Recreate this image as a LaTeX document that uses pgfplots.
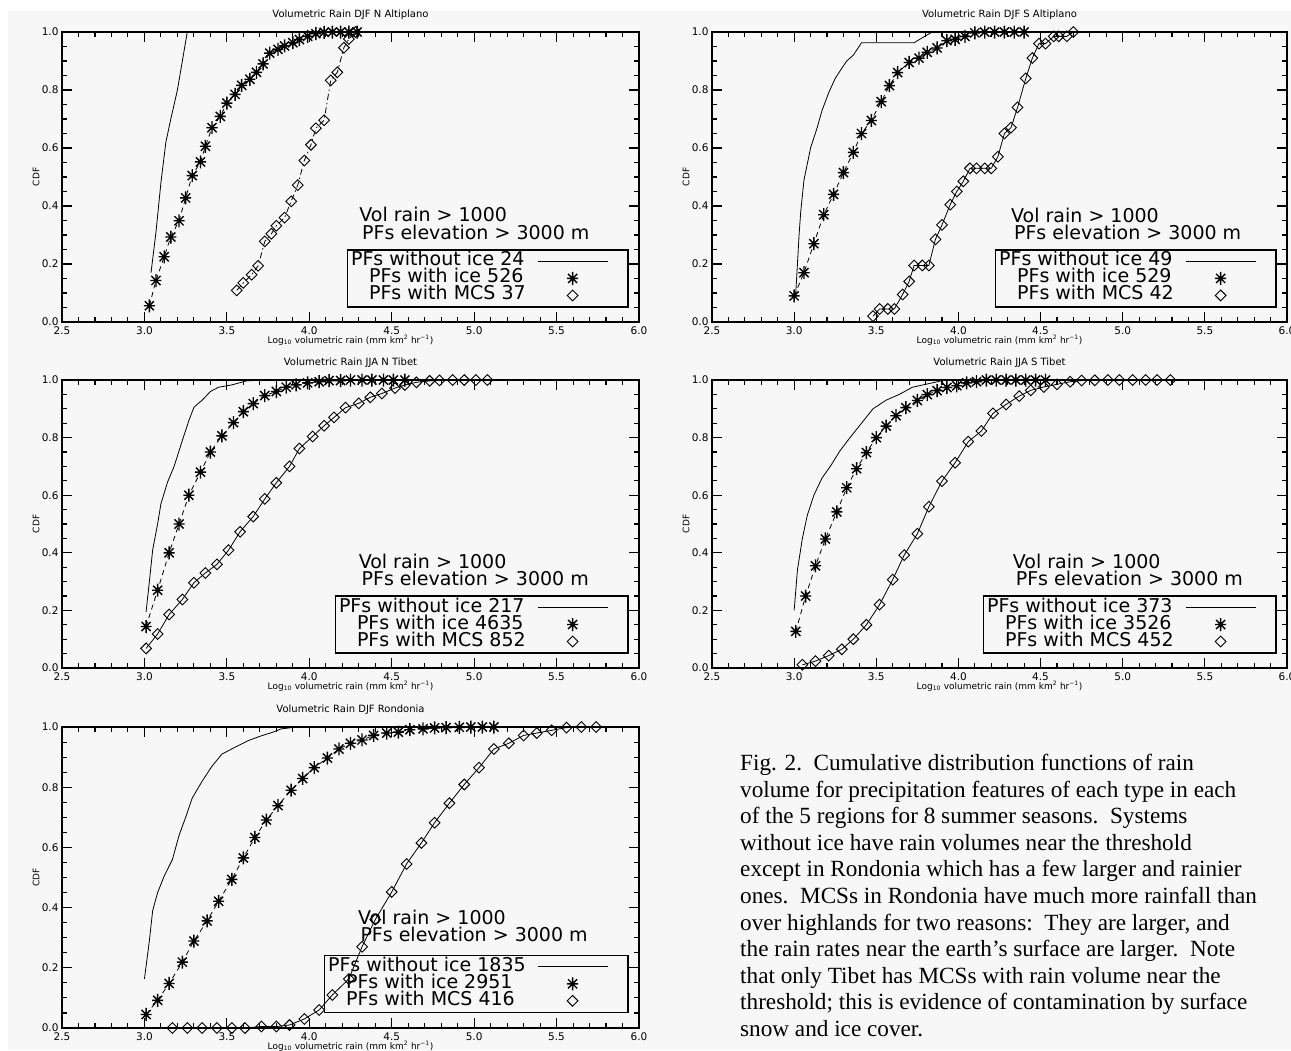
\documentclass[border=0pt]{standalone}
\usepackage{fontspec}
\setmainfont{Liberation Serif}
\newfontfamily\idl{DejaVu Sans}
\usepackage{pgfplots}
\pgfplotsset{compat=1.18}

\definecolor{bg}{HTML}{F7F7F7}

% IDL style asterisk (psym=2)
\pgfdeclareplotmark{idlstar}{%
  \pgfpathmoveto{\pgfqpoint{0pt}{\pgfplotmarksize}}%
  \pgfpathlineto{\pgfqpoint{0pt}{-\pgfplotmarksize}}%
  \pgfpathmoveto{\pgfqpoint{-0.85\pgfplotmarksize}{0pt}}%
  \pgfpathlineto{\pgfqpoint{0.85\pgfplotmarksize}{0pt}}%
  \pgfpathmoveto{\pgfqpoint{-0.7\pgfplotmarksize}{-0.7\pgfplotmarksize}}%
  \pgfpathlineto{\pgfqpoint{0.7\pgfplotmarksize}{0.7\pgfplotmarksize}}%
  \pgfpathmoveto{\pgfqpoint{-0.7\pgfplotmarksize}{0.7\pgfplotmarksize}}%
  \pgfpathlineto{\pgfqpoint{0.7\pgfplotmarksize}{-0.7\pgfplotmarksize}}%
  \pgfusepathqstroke}

\tikzset{note/.style={anchor=west, inner sep=0pt, text depth=0pt, font=\idl\fontsize{19}{19}\selectfont}}

\pgfplotsset{
  cdf/.style={
    scale only axis,
    xmin=2.5, xmax=6.0, ymin=0, ymax=1.0,
    xtick={2.5,3.0,3.5,4.0,4.5,5.0,5.5,6.0},
    ytick={0,0.2,0.4,0.6,0.8,1.0},
    minor x tick num=4, minor y tick num=3,
    tick align=inside, xtick pos=both, ytick pos=both,
    xticklabel pos=lower, yticklabel pos=left,
    major tick length=10pt, minor tick length=5pt,
    every tick/.style={black, line width=1.1pt},
    axis line style={line width=1.3pt},
    tick label style={font=\idl\fontsize{10.5}{10.5}\selectfont},
    xticklabel style={yshift=-1.5pt},
    /pgf/number format/fixed, /pgf/number format/fixed zerofill,
    /pgf/number format/precision=1, /pgf/number format/assume math mode=true,
    xlabel={Log\textsubscript{10} volumetric rain (mm km\textsuperscript{2} hr\textsuperscript{−1})},
    ylabel={CDF},
    every axis x label/.style={at={(axis description cs:0.5,0)}, anchor=north, yshift=-13pt, inner sep=0pt, font=\idl\fontsize{9}{9}\selectfont},
    every axis y label/.style={at={(axis description cs:0,0.5)}, xshift=-26pt, rotate=90, anchor=center, inner sep=0pt, font=\idl\fontsize{9}{9}\selectfont},
    title style={at={(0.5,1)}, anchor=south, yshift=6pt, inner sep=0pt, font=\idl\fontsize{10}{10}\selectfont},
    legend cell align=left,
    legend plot pos=right,
    legend style={at={(0.982,0.05)}, anchor=south east, draw=black, line width=1.2pt,
      fill=none, inner sep=3pt, font=\idl\fontsize{19}{19}\selectfont,
      nodes={inner sep=0.5pt, text height=12.5pt, text depth=3.5pt}, row sep=0pt},
  },
  noice/.style={black, line width=0.8pt, no markers,
    legend image code/.code={\draw[##1] (11pt,0pt) -- (81pt,0pt); \path (0pt,0pt) (98pt,0pt);}},
  ice/.style={black, line width=0.8pt, dash pattern=on 5pt off 4pt,
    mark=idlstar, mark size=6.5pt, mark options={solid, line width=1.4pt},
    legend image code/.code={\draw[##1] plot coordinates {(46pt,0pt)}; \path (0pt,0pt) (98pt,0pt);}},
  mcs/.style={black, line width=0.8pt,
    mark=square, mark size=3.8pt, mark options={solid, rotate=45, line width=0.9pt},
    legend image code/.code={\draw[##1] plot coordinates {(46pt,0pt)}; \path (0pt,0pt) (98pt,0pt);}},
}

\begin{document}
\begin{tikzpicture}
\fill[white] (0,0) rectangle (1291pt,-1050pt);
\fill[bg] (8pt,-11pt) rectangle (1291pt,-1050pt);

% ---------- DJF N Altiplano
\begin{axis}[cdf, at={(62pt,-322pt)}, anchor=south west, width=577pt, height=290pt,
  title={Volumetric Rain DJF N Altiplano}]
\addplot[noice] coordinates {(3.04,0.17)(3.07,0.31)(3.10,0.48)(3.13,0.62)(3.16,0.70)(3.20,0.80)(3.23,0.90)(3.26,1.0)};
\addlegendentry{PFs without ice 24}
\addplot[ice] coordinates {(3.03,0.056)(3.07,0.143)(3.12,0.225)(3.16,0.293)(3.21,0.349)(3.25,0.428)(3.29,0.505)(3.34,0.552)(3.37,0.606)(3.41,0.670)(3.46,0.709)(3.50,0.755)(3.55,0.785)(3.59,0.816)(3.64,0.837)(3.68,0.861)(3.72,0.890)(3.76,0.927)(3.81,0.940)(3.85,0.952)(3.90,0.963)(3.94,0.974)(3.99,0.985)(4.04,0.994)(4.09,0.999)(4.14,1.0)(4.19,1.0)(4.24,1.0)(4.29,1.0)};
\addlegendentry{\hspace{18pt}PFs with ice 526}
\addplot[mcs, dash pattern=on 6pt off 3pt on 1.5pt off 3pt] coordinates {(3.56,0.109)(3.60,0.135)(3.65,0.163)(3.69,0.194)(3.73,0.278)(3.77,0.304)(3.80,0.332)(3.85,0.360)(3.89,0.416)(3.93,0.472)(3.97,0.557)(4.01,0.611)(4.04,0.668)(4.09,0.696)(4.13,0.833)(4.17,0.861)(4.21,0.946)(4.24,0.976)(4.28,1.0)};
\addlegendentry{\hspace{18pt}PFs with MCS 37}
\node[note] at (axis description cs:0.515,0.372) {Vol rain > 1000};
\node[note] at (axis description cs:0.520,0.309) {PFs elevation > 3000 m};
\end{axis}

% ---------- DJF S Altiplano
\begin{axis}[cdf, at={(712pt,-322pt)}, anchor=south west, width=575pt, height=290pt,
  title={Volumetric Rain DJF S Altiplano}]
\addplot[noice] coordinates {(3.01,0.10)(3.02,0.20)(3.03,0.30)(3.04,0.38)(3.06,0.49)(3.10,0.60)(3.14,0.67)(3.17,0.73)(3.21,0.79)(3.25,0.84)(3.29,0.875)(3.32,0.90)(3.36,0.92)(3.41,0.963)(3.73,0.963)(3.78,0.98)(3.84,1.0)};
\addlegendentry{PFs without ice 49}
\addplot[ice] coordinates {(3.00,0.09)(3.06,0.17)(3.12,0.27)(3.18,0.37)(3.24,0.44)(3.30,0.515)(3.36,0.585)(3.41,0.65)(3.47,0.695)(3.53,0.76)(3.58,0.815)(3.63,0.86)(3.70,0.895)(3.76,0.91)(3.81,0.93)(3.87,0.945)(3.93,0.97)(3.98,0.975)(4.04,0.985)(4.10,0.997)(4.16,1.0)(4.22,1.0)(4.28,1.0)(4.34,1.0)(4.40,1.0)};
\addlegendentry{\hspace{18pt}PFs with ice 529}
\addplot[mcs] coordinates {(3.48,0.02)(3.52,0.045)(3.57,0.045)(3.61,0.045)(3.66,0.095)(3.70,0.14)(3.73,0.195)(3.78,0.195)(3.82,0.195)(3.86,0.285)(3.90,0.335)(3.95,0.405)(3.99,0.45)(4.03,0.485)(4.07,0.53)(4.11,0.53)(4.16,0.53)(4.20,0.53)(4.24,0.57)(4.28,0.65)(4.32,0.67)(4.36,0.74)(4.41,0.84)(4.45,0.91)(4.49,0.96)(4.53,0.96)(4.58,0.985)(4.61,0.985)(4.66,0.985)(4.70,1.0)};
\addlegendentry{\hspace{18pt}PFs with MCS 42}
\node[note] at (axis description cs:0.520,0.368) {Vol rain > 1000};
\node[note] at (axis description cs:0.525,0.309) {PFs elevation > 3000 m};
\end{axis}

% ---------- JJA N Tibet
\begin{axis}[cdf, at={(62pt,-668pt)}, anchor=south west, width=577pt, height=288pt,
  title={Volumetric Rain JJA N Tibet}]
\addplot[noice] coordinates {(3.01,0.195)(3.03,0.30)(3.05,0.41)(3.08,0.50)(3.10,0.57)(3.14,0.645)(3.18,0.70)(3.23,0.79)(3.27,0.86)(3.30,0.905)(3.35,0.93)(3.40,0.96)(3.45,0.975)(3.53,0.983)(3.62,0.997)(3.73,1.0)};
\addlegendentry{PFs without ice 217}
\addplot[ice] coordinates {(3.01,0.144)(3.08,0.27)(3.15,0.40)(3.21,0.50)(3.27,0.60)(3.34,0.68)(3.40,0.75)(3.47,0.806)(3.54,0.852)(3.60,0.89)(3.66,0.918)(3.73,0.946)(3.80,0.96)(3.86,0.975)(3.92,0.983)(3.99,0.99)(4.06,0.994)(4.12,0.998)(4.19,0.998)(4.25,1.0)(4.32,1.0)(4.38,1.0)(4.45,1.0)(4.51,1.0)(4.58,1.0)};
\addlegendentry{\hspace{18pt}PFs with ice 4635}
\addplot[mcs] coordinates {(3.01,0.068)(3.08,0.118)(3.15,0.186)(3.23,0.238)(3.30,0.296)(3.37,0.33)(3.44,0.36)(3.51,0.409)(3.58,0.473)(3.66,0.526)(3.73,0.587)(3.80,0.643)(3.88,0.70)(3.94,0.762)(4.02,0.804)(4.09,0.841)(4.15,0.87)(4.22,0.904)(4.30,0.919)(4.37,0.94)(4.44,0.953)(4.52,0.972)(4.58,0.983)(4.65,0.992)(4.73,0.997)(4.79,0.999)(4.87,1.0)(4.94,1.0)(5.01,1.0)(5.08,1.0)};
\addlegendentry{\hspace{18pt}PFs with MCS 852}
\node[note] at (axis description cs:0.514,0.370) {Vol rain > 1000};
\node[note] at (axis description cs:0.519,0.313) {PFs elevation > 3000 m};
\end{axis}

% ---------- JJA S Tibet
\begin{axis}[cdf, at={(712pt,-668pt)}, anchor=south west, width=575pt, height=288pt,
  title={Volumetric Rain JJA S Tibet}]
\addplot[noice] coordinates {(3.00,0.20)(3.02,0.34)(3.05,0.45)(3.08,0.53)(3.12,0.60)(3.17,0.66)(3.22,0.70)(3.28,0.755)(3.34,0.80)(3.41,0.85)(3.48,0.90)(3.56,0.93)(3.64,0.95)(3.72,0.975)(3.80,0.985)(3.92,1.0)};
\addlegendentry{PFs without ice 373}
\addplot[ice] coordinates {(3.01,0.127)(3.07,0.25)(3.13,0.355)(3.19,0.448)(3.26,0.542)(3.32,0.626)(3.38,0.692)(3.44,0.748)(3.50,0.80)(3.56,0.84)(3.62,0.876)(3.68,0.904)(3.75,0.929)(3.81,0.949)(3.87,0.963)(3.93,0.974)(3.99,0.98)(4.05,0.99)(4.11,0.994)(4.17,1.0)(4.23,1.0)(4.29,1.0)(4.35,1.0)(4.41,1.0)(4.47,1.0)(4.53,1.0)};
\addlegendentry{\hspace{18pt}PFs with ice 3526}
\addplot[mcs] coordinates {(3.05,0.011)(3.13,0.024)(3.21,0.043)(3.29,0.065)(3.36,0.10)(3.44,0.15)(3.52,0.22)(3.60,0.307)(3.67,0.392)(3.75,0.466)(3.82,0.56)(3.90,0.649)(3.98,0.713)(4.06,0.786)(4.14,0.823)(4.21,0.884)(4.29,0.915)(4.37,0.944)(4.44,0.964)(4.52,0.976)(4.60,0.985)(4.68,0.994)(4.75,0.998)(4.83,0.999)(4.91,1.0)(4.98,1.0)(5.06,1.0)(5.14,1.0)(5.21,1.0)(5.29,1.0)};
\addlegendentry{\hspace{18pt}PFs with MCS 452}
\node[note] at (axis description cs:0.523,0.370) {Vol rain > 1000};
\node[note] at (axis description cs:0.528,0.313) {PFs elevation > 3000 m};
\end{axis}

% ---------- DJF Rondonia
\begin{axis}[cdf, at={(62pt,-1028pt)}, anchor=south west, width=577pt, height=301pt,
  title={Volumetric Rain DJF Rondonia}]
\addplot[noice] coordinates {(3.00,0.163)(3.03,0.29)(3.05,0.39)(3.08,0.45)(3.12,0.505)(3.17,0.56)(3.21,0.64)(3.25,0.70)(3.29,0.764)(3.35,0.82)(3.41,0.87)(3.47,0.91)(3.55,0.933)(3.63,0.955)(3.70,0.969)(3.78,0.983)(3.83,0.994)(3.93,1.0)(4.55,1.0)};
\addlegendentry{PFs without ice 1835}
\addplot[ice] coordinates {(3.01,0.045)(3.08,0.092)(3.15,0.148)(3.23,0.219)(3.30,0.289)(3.38,0.356)(3.45,0.421)(3.53,0.494)(3.60,0.565)(3.67,0.633)(3.74,0.691)(3.81,0.739)(3.89,0.79)(3.96,0.829)(4.03,0.865)(4.11,0.897)(4.18,0.927)(4.25,0.946)(4.32,0.957)(4.39,0.972)(4.47,0.98)(4.54,0.983)(4.61,0.991)(4.69,0.994)(4.76,0.997)(4.83,0.998)(4.91,0.999)(4.98,1.0)(5.05,1.0)(5.12,1.0)};
\addlegendentry{\hspace{18pt}PFs with ice 2951}
\addplot[mcs] coordinates {(3.17,0.0)(3.26,0.0)(3.35,0.0)(3.44,0.0)(3.53,0.0)(3.61,0.0)(3.71,0.005)(3.80,0.005)(3.88,0.01)(3.97,0.03)(4.06,0.06)(4.14,0.11)(4.24,0.163)(4.32,0.27)(4.40,0.36)(4.50,0.452)(4.59,0.545)(4.68,0.615)(4.76,0.682)(4.85,0.747)(4.94,0.809)(5.03,0.865)(5.12,0.927)(5.21,0.946)(5.30,0.972)(5.38,0.98)(5.47,0.989)(5.56,0.998)(5.65,1.0)(5.74,1.0)};
\addlegendentry{\hspace{18pt}PFs with MCS 416}
\node[note] at (axis description cs:0.513,0.368) {Vol rain > 1000};
\node[note] at (axis description cs:0.517,0.312) {PFs elevation > 3000 m};
\end{axis}

% ---------- caption
\node[anchor=north west, inner sep=0pt, align=left, font=\fontsize{23.2}{26.6}\selectfont]
  at (740pt,-754pt) {%
Fig. 2.\ \ Cumulative distribution functions of rain\\
volume for precipitation features of each type in each\\
of the 5 regions for 8 summer seasons.\ \ Systems\\
without ice have rain volumes near the threshold\\
except in Rondonia which has a few larger and rainier\\
ones.\ \ MCSs in Rondonia have much more rainfall than\\
over highlands for two reasons:\ \ They are larger, and\\
the rain rates near the earth’s surface are larger.\ \ Note\\
that only Tibet has MCSs with rain volume near the\\
threshold; this is evidence of contamination by surface\\
snow and ice cover.};

\pgfresetboundingbox
\path[use as bounding box] (0,0) rectangle (1291pt,-1050pt);
\end{tikzpicture}
\end{document}
